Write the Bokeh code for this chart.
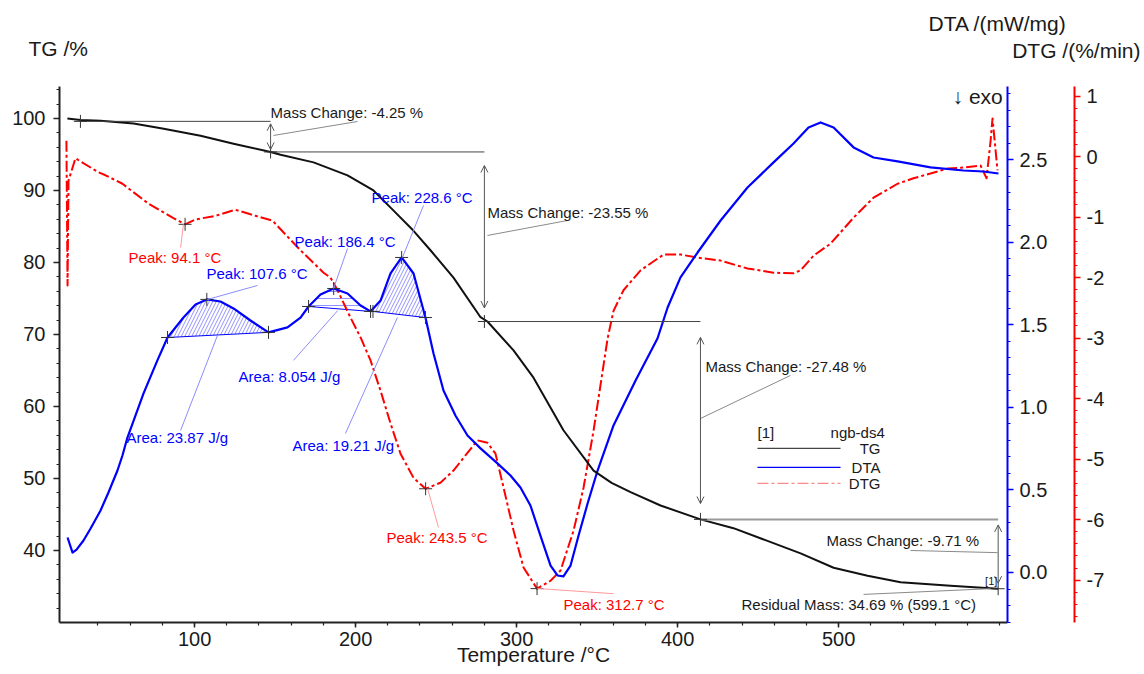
from bokeh.plotting import figure
from bokeh.layouts import column
from bokeh.models import (Range1d, LinearAxis, FixedTicker, PrintfTickFormatter,
                          Label, Arrow, OpenHead)
from bokeh.embed import file_html
from bokeh.resources import INLINE

# ---------------- data ----------------
temp_tg = [21.0, 29.1, 41.6, 62.1, 80.0, 103.7, 124.2, 147.2, 153.4, 173.9, 195.0, 211.1,
           223.6, 236.0, 246.5, 260.8, 277.6, 281.9, 298.1, 310.5, 329.1, 347.8,
           359.0, 370.8, 389.4, 414.2, 434.7, 455.0, 476.4, 496.9, 518.0, 538.5, 569.5, 599.1]
tg = [100.0, 99.8, 99.7, 99.3, 98.6, 97.6, 96.5, 95.35, 94.95, 93.9, 92.1, 90.0,
      87.2, 84.4, 81.7, 77.9, 72.4, 71.8, 67.8, 64.0, 56.7, 51.1,
      49.4, 48.1, 46.25, 44.32, 43.1, 41.4, 39.6, 37.6, 36.5, 35.6, 35.1, 34.69]

temp_dta = [21.1, 24.2, 26.7, 31.0, 35.4, 41.6, 46.5, 52.1, 55.2, 58.3, 68.3, 76.9, 83.2,
            93.1, 100.6, 107.6,
            116.1, 124.2, 134.7, 145.9, 157.7, 165.8, 170.8, 178.2, 186.4, 195.0,
            203.1, 209.3, 215.5, 221.7, 228.6, 236.0, 243.4, 248.4, 254.6, 262.1,
            269.5, 277.6, 288.1, 296.2, 302.4, 308.6, 314.8, 321.1, 325.4, 329.1,
            333.5, 338.5, 344.1, 350.3, 360.2, 373.9, 387.5, 393.8, 401.8, 412.4,
            426.7, 443.4, 459.6, 472.0, 481.3, 488.8, 496.9, 509.3, 521.7, 536.6,
            557.1, 577.6, 590.0, 599.3]
dta = [0.212, 0.121, 0.139, 0.194, 0.267, 0.376, 0.485, 0.618, 0.709, 0.818, 1.085, 1.285, 1.424,
       1.545, 1.624, 1.655,
       1.642, 1.600, 1.527, 1.455, 1.485, 1.545, 1.612, 1.685, 1.721, 1.691,
       1.618, 1.582, 1.648, 1.812, 1.909, 1.812, 1.545, 1.327, 1.103, 0.950,
       0.830, 0.752, 0.661, 0.588, 0.515, 0.406, 0.224, 0.042, -0.018, -0.024,
       0.042, 0.224, 0.418, 0.618, 0.891, 1.164, 1.418, 1.606, 1.788, 1.939,
       2.133, 2.333, 2.485, 2.600, 2.697, 2.727, 2.697, 2.576, 2.515, 2.491,
       2.455, 2.436, 2.430, 2.418]

temp_dtg = [20.4, 21.1, 21.7, 26.0, 40.3, 44.7, 55.2, 71.4, 86.3, 94.1, 100.6, 113.0,
            125.4, 137.8, 148.4, 158.3, 165.8, 180.1, 184.4, 188.8, 196.8, 203.1,
            209.3, 215.5, 221.7, 227.9, 236.0, 243.5, 252.7, 260.8, 267.0, 275.7,
            281.9, 286.9, 291.9, 298.1, 304.3, 312.7, 321.1, 327.3, 335.4, 341.6,
            347.8, 356.5, 360.2, 366.4, 377.0, 391.3, 401.8, 412.4, 426.7, 443.4,
            459.6, 472.0, 476.4, 484.4, 495.0, 509.3, 521.7, 536.6, 546.5, 557.1,
            567.6, 577.6, 588.2, 591.9, 594.4, 595.6, 597.5, 598.7]
dtg = [0.26, -2.13, -0.40, -0.03, -0.26, -0.31, -0.45, -0.78, -1.01, -1.12, -1.04, -0.98,
       -0.88, -0.98, -1.06, -1.34, -1.55, -1.92, -2.00, -2.21, -2.66, -2.99,
       -3.37, -3.87, -4.41, -4.91, -5.31, -5.49, -5.39, -5.19, -4.98, -4.69,
       -4.73, -4.91, -5.47, -6.18, -6.79, -7.14, -7.01, -6.84, -6.18, -5.47,
       -4.53, -3.01, -2.55, -2.21, -1.88, -1.62, -1.62, -1.67, -1.72, -1.85,
       -1.92, -1.93, -1.88, -1.64, -1.44, -1.01, -0.68, -0.45, -0.36, -0.28,
       -0.20, -0.18, -0.15, -0.36, 0.26, 0.63, 0.10, -0.23]

step_temp = [29.1, 147.2, 280.0, 414.2, 599.1]
step_tg = [99.6, 95.35, 71.8, 44.32, 34.69]
mass_change = [-4.25, -23.55, -27.48, -9.71]

dta_peak_temp = [107.6, 186.4, 228.6]
dta_peak_val = [1.655, 1.721, 1.909]
area_start_temp = [83.2, 170.8, 210.8]
area_start_val = [1.424, 1.612, 1.582]
area_end_temp = [145.9, 209.3, 243.4]
area_end_val = [1.455, 1.582, 1.545]
area_value = [23.87, 8.054, 19.21]

dtg_peak_temp = [94.1, 243.5, 312.7]
dtg_peak_val = [-1.12, -5.49, -7.14]

x_ticks = [100, 200, 300, 400, 500]
tg_ticks = [40, 50, 60, 70, 80, 90, 100]
dta_ticks = [0.0, 0.5, 1.0, 1.5, 2.0, 2.5]
dtg_ticks = [-7, -6, -5, -4, -3, -2, -1, 0, 1]

# ---------------- styles ----------------
FONT = "Liberation Sans"
BLUE = "#0000ff"
RED = "#ff0000"
TXT = "#1a1a1a"
W = 1144
HEAD_H = 70
MAIN_H = 674 - HEAD_H


def lab(fig, x, y, text, color=TXT, size="15px", align="left"):
    fig.add_layout(Label(x=x, y=y, text=text, text_font=FONT, text_font_size=size,
                         text_color=color, text_baseline="middle", text_align=align))


# ---------------- header strip with the axis titles ----------------
head = figure(width=W, height=HEAD_H, x_range=Range1d(0, W), y_range=Range1d(HEAD_H, 0),
              output_backend="svg", toolbar_location=None, min_border=0,
              x_axis_type=None, y_axis_type=None)
head.frame_align = False
head.outline_line_color = None
head.background_fill_color = "white"
head.border_fill_color = "white"
lab(head, 28, 48, "TG /%", size="21px")
lab(head, 928, 23, "DTA /(mW/mg)", size="21px")
lab(head, 1140, 49.5, "DTG /(%/min)", size="21px", align="right")

# ---------------- main plot ----------------
p = figure(width=W, height=MAIN_H, output_backend="svg", toolbar_location=None,
           x_range=Range1d(16.1, 604.9), y_range=Range1d(30.0, 104.44),
           min_border_left=59, min_border_right=W - 1007, min_border_top=16,
           min_border_bottom=52)
p.frame_align = False
p.extra_y_ranges = {"dta": Range1d(-0.303, 2.945), "dtg": Range1d(-7.70, 1.157)}
p.outline_line_color = None
p.xgrid.visible = False
p.ygrid.visible = False
p.background_fill_color = "white"
p.border_fill_color = "white"


def style_axis(ax, color, standoff):
    ax.axis_line_color = color
    ax.axis_line_width = 2
    ax.major_tick_line_color = color
    ax.minor_tick_line_color = color
    ax.major_tick_line_width = 1.5
    ax.minor_tick_line_width = 1.2
    ax.major_tick_in = 0
    ax.major_tick_out = 6
    ax.minor_tick_in = 0
    ax.minor_tick_out = 3
    ax.major_label_text_font = FONT
    ax.major_label_text_font_size = "20px"
    ax.major_label_text_color = TXT
    ax.major_label_standoff = standoff


xa = p.xaxis[0]
xa.ticker = FixedTicker(ticks=x_ticks, minor_ticks=list(range(40, 601, 20)))
style_axis(xa, "#222222", 4)
xa.major_tick_out = 5
xa.axis_label = "Temperature /°C"
xa.axis_label_text_font = FONT
xa.axis_label_text_font_size = "21px"
xa.axis_label_text_font_style = "normal"
xa.axis_label_text_color = TXT
xa.axis_label_standoff = -6

ya = p.yaxis[0]
ya.ticker = FixedTicker(ticks=tg_ticks, minor_ticks=list(range(32, 105, 2)))
style_axis(ya, "#222222", 8)

dta_axis = LinearAxis(y_range_name="dta",
                      ticker=FixedTicker(ticks=dta_ticks,
                                         minor_ticks=[round(-0.3 + 0.1 * i, 1) for i in range(33)]),
                      formatter=PrintfTickFormatter(format="%.1f"))
style_axis(dta_axis, BLUE, 6)
dta_axis.axis_label = " "
dta_axis.axis_label_text_font_size = "20px"
dta_axis.axis_label_standoff = -1
p.add_layout(dta_axis, "right")

dtg_axis = LinearAxis(y_range_name="dtg",
                      ticker=FixedTicker(ticks=dtg_ticks,
                                         minor_ticks=[round(-7.6 + 0.2 * i, 1) for i in range(44)]),
                      formatter=PrintfTickFormatter(format="%d"))
style_axis(dtg_axis, RED, 6)
p.add_layout(dtg_axis, "right")

# ---------------- DTA area hatches ----------------
hatches = ["/", "-", "/"]
for k in range(3):
    ts, te = area_start_temp[k], area_end_temp[k]
    xs = [ts] + [t for t in temp_dta if ts < t < te] + [te]
    ys = [area_start_val[k]] + [v for t, v in zip(temp_dta, dta) if ts < t < te] + [area_end_val[k]]
    p.patch(xs, ys, y_range_name="dta", fill_alpha=0, line_color=None,
            hatch_pattern=hatches[k], hatch_color="#4a4aff", hatch_alpha=0.75,
            hatch_scale=7, hatch_weight=0.8)
    p.line([ts, te], [area_start_val[k], area_end_val[k]], y_range_name="dta",
           line_color=BLUE, line_width=1)

# ---------------- curves ----------------
p.line(temp_dtg, dtg, y_range_name="dtg", line_color=RED, line_width=2,
       line_dash="11 3 3 3", line_join="round")
p.line(temp_dta, dta, y_range_name="dta", line_color=BLUE, line_width=2.2,
       line_join="round")
p.line(temp_tg, tg, line_color="#111111", line_width=2, line_join="round")

# ---------------- mass-change construction ----------------
p.segment(x0=step_temp[:3], y0=step_tg[:3], x1=step_temp[1:4], y1=step_tg[:3],
          line_color="#444444", line_width=1)
p.segment(x0=[step_temp[3]], y0=[step_tg[3]], x1=[step_temp[4]], y1=[step_tg[3]],
          line_color="#9a9a9a", line_width=2)
for i in range(4):
    top, bot = step_tg[i], step_tg[i + 1]
    inset = 0.08 * (top - bot)
    p.add_layout(Arrow(x_start=step_temp[i + 1], y_start=top - inset,
                       x_end=step_temp[i + 1], y_end=bot + inset,
                       line_color="#555555", line_width=1,
                       start=OpenHead(size=7, line_color="#555555", line_width=1),
                       end=OpenHead(size=7, line_color="#555555", line_width=1)))

p.scatter(step_temp, step_tg, marker="cross", size=13, line_color="#333333", line_width=1)
p.scatter(dta_peak_temp, dta_peak_val, y_range_name="dta", marker="cross", size=13,
          line_color="#333333", line_width=1)
p.scatter(area_start_temp + area_end_temp, area_start_val + area_end_val,
          y_range_name="dta", marker="cross", size=13, line_color="#333333", line_width=1)
p.scatter(dtg_peak_temp, dtg_peak_val, y_range_name="dtg", marker="cross", size=13,
          line_color="#333333", line_width=1)

# leader lines (annotation geometry, in TG-axis units)
gray_leaders = [((149.0, 97.64), (201.2, 99.58)), ((281.9, 83.75), (331.6, 85.83)),
                ((414.2, 58.33), (470.1, 64.31)), ((544.7, 40.0), (598.7, 39.7)),
                ((515.5, 33.9), (594.4, 34.7))]
blue_leaders = [((108.0, 74.86), (139.1, 76.81)), ((186.3, 76.39), (195.0, 81.94)),
                ((229.1, 80.69), (242.2, 87.92)), ((114.2, 69.86), (91.3, 56.67)),
                ((188.8, 73.3), (161.4, 66.4)), ((226.0, 72.36), (193.7, 56.25))]
red_leaders = [((93.1, 85.28), (91.3, 82.08)), ((244.7, 48.6), (251.5, 43.2)),
               ((313.0, 34.72), (360.2, 34.0))]
for segs, col in [(gray_leaders, "#8a8a8a"), (blue_leaders, "#8c8cff"), (red_leaders, "#ff9a9a")]:
    p.segment(x0=[s[0][0] for s in segs], y0=[s[0][1] for s in segs],
              x1=[s[1][0] for s in segs], y1=[s[1][1] for s in segs],
              line_color=col, line_width=1)

mc_pos = [(147.2, 100.83), (281.9, 86.94), (417.3, 65.56), (492.5, 41.39)]
for (x, y), m in zip(mc_pos, mass_change):
    lab(p, x, y, f"Mass Change: {m:.2f} %")
lab(p, 439.7, 32.5, f"Residual Mass: {step_tg[-1]:.2f} % ({step_temp[-1]} °C)")
lab(p, 591.0, 35.8, "[1]", size="11px")

dta_peak_pos = [(107.4, 78.47), (162.1, 82.92), (209.9, 89.03)]
for (x, y), t in zip(dta_peak_pos, dta_peak_temp):
    lab(p, x, y, f"Peak: {t} °C", BLUE)
area_pos = [(57.7, 55.69), (127.3, 64.17), (160.8, 54.58)]
for (x, y), a in zip(area_pos, area_value):
    lab(p, x, y, f"Area: {a:g} J/g", BLUE)
dtg_peak_pos = [(59.0, 80.69), (219.2, 41.81), (329.1, 32.5)]
for (x, y), t in zip(dtg_peak_pos, dtg_peak_temp):
    lab(p, x, y, f"Peak: {t} °C", RED)

# legend
lab(p, 449.6, 56.39, "[1]")
lab(p, 495.0, 56.39, "ngb-ds4")
leg_y = [54.17, 51.53, 49.31]
p.segment(x0=[449.6] * 2, y0=leg_y[:2], x1=[501.2] * 2, y1=leg_y[:2],
          line_color=["#444444", BLUE], line_width=1.2)
p.segment(x0=[449.6], y0=[leg_y[2]], x1=[501.2], y1=[leg_y[2]],
          line_color="#ff8a8a", line_width=1.2, line_dash="11 3 3 3")
for y, t in zip(leg_y, ["TG", "DTA", "DTG"]):
    lab(p, 526.0, y, t, align="right")

lab(p, 570.8, 103.0, "↓ exo", size="21px")

layout = column(head, p, spacing=0)
open("out.html", "w").write(file_html(layout, INLINE))
